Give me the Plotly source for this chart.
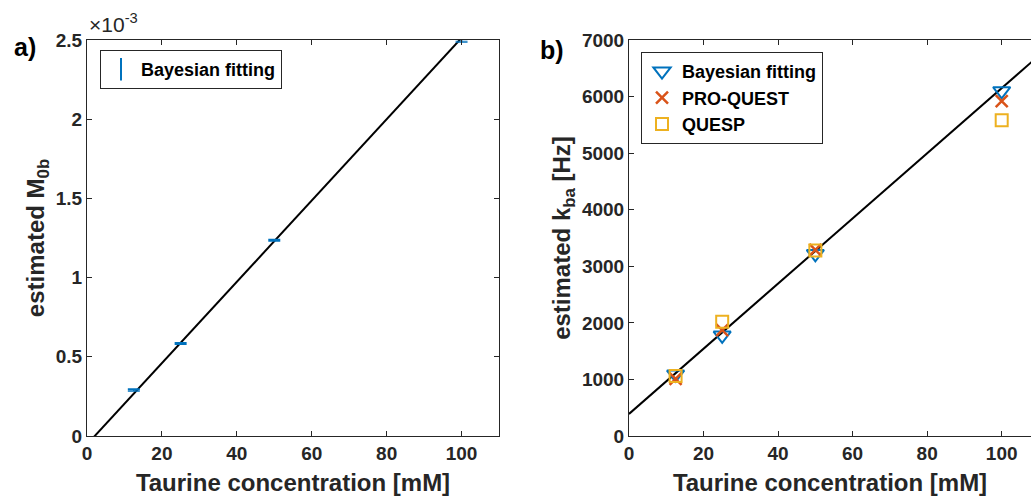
import numpy as np
import plotly.graph_objects as go

# ---- data ----
conc = [12.5, 25, 50, 100]                      # taurine concentration [mM]

# (a) Bayesian estimate of M0b with its standard deviation
m0b_mean = [0.290e-3, 0.584e-3, 1.236e-3, 2.495e-3]
m0b_sd = [0.006e-3, 0.005e-3, 0.005e-3, 0.008e-3]
m0b_fit_slope = 2.566e-5                        # per mM
m0b_fit_intercept = -5.3e-5

# (b) exchange rate k_ba from three methods [Hz]
kba_bayes = [1090, 1780, 3220, 6100]
kba_proquest = [1010, 1870, 3290, 5920]
kba_quesp = [1060, 2020, 3280, 5580]
kba_fit_slope = 57.6                            # Hz per mM
kba_fit_intercept = 390

m0b_ticks = [0, 0.5e-3, 1.0e-3, 1.5e-3, 2.0e-3, 2.5e-3]
m0b_ticktext = ["0", "0.5", "1", "1.5", "2", "2.5"]

BLUE = "#0072BD"
ORANGE = "#D95319"
YELLOW = "#EDB120"
INK = "#262626"
FONT = "Liberation Sans"

W, H = 1031, 503
ML, MR, MT, MB = 0, 0, 40, 67
PW = W - ML - MR

fig = go.Figure()

# fit lines span the full x range and are clipped by the axes
xfit = np.array([0.0, 110.0])
fig.add_trace(go.Scatter(
    x=xfit, y=m0b_fit_slope * xfit + m0b_fit_intercept,
    mode="lines", line=dict(color="black", width=2),
    showlegend=False, hoverinfo="skip", xaxis="x", yaxis="y"))

fig.add_trace(go.Scatter(
    x=conc, y=m0b_mean, mode="markers",
    marker=dict(color="rgba(0,0,0,0)", size=2),
    error_y=dict(type="data", array=m0b_sd, color=BLUE, thickness=1.6, width=6),
    showlegend=False, xaxis="x", yaxis="y"))
# legend entry for the error-bar series
fig.add_trace(go.Scatter(
    x=[None], y=[None], mode="markers", name="Bayesian fitting",
    marker=dict(symbol="line-ns-open", size=16, color=BLUE, line=dict(color=BLUE, width=2)),
    legend="legend", xaxis="x", yaxis="y"))

xfit2 = np.array([0.0, 110.0])
fig.add_trace(go.Scatter(
    x=xfit2, y=kba_fit_slope * xfit2 + kba_fit_intercept,
    mode="lines", line=dict(color="black", width=2),
    showlegend=False, hoverinfo="skip", xaxis="x2", yaxis="y2"))

fig.add_trace(go.Scatter(
    x=conc, y=kba_bayes, mode="markers", name="Bayesian fitting",
    marker=dict(symbol="triangle-down-open", size=15, color=BLUE, line=dict(color=BLUE, width=2)),
    legend="legend2", xaxis="x2", yaxis="y2"))
fig.add_trace(go.Scatter(
    x=conc, y=kba_proquest, mode="markers", name="PRO-QUEST",
    marker=dict(symbol="x-thin-open", size=12, color=ORANGE, line=dict(color=ORANGE, width=2.5)),
    legend="legend2", xaxis="x2", yaxis="y2"))
fig.add_trace(go.Scatter(
    x=conc, y=kba_quesp, mode="markers", name="QUESP",
    marker=dict(symbol="square-open", size=12, color=YELLOW, line=dict(color=YELLOW, width=2)),
    legend="legend2", xaxis="x2", yaxis="y2"))

tick_font = dict(family=FONT, size=19, color=INK, weight="bold")
title_font = dict(family=FONT, size=24, color=INK, weight="bold")

axis_common = dict(
    showline=True, linecolor=INK, linewidth=1,
    ticks="inside", ticklen=5, tickcolor=INK, tickwidth=1,
    showgrid=False, zeroline=False, tickfont=tick_font, automargin=False,
)

ax1_l, ax1_r = 87, 499
ax2_l = 629
x2_max = (W - ax2_l) / ((1001.7 - ax2_l) / 100.0)

fig.update_layout(
    width=W, height=H,
    margin=dict(l=ML, r=MR, t=MT, b=MB),
    paper_bgcolor="white", plot_bgcolor="white",
    xaxis=dict(domain=[ax1_l / PW, ax1_r / PW], range=[0, 110], mirror="allticks",
               tickvals=[0, 20, 40, 60, 80, 100],
               title=dict(text="Taurine concentration [mM]", font=title_font, standoff=11),
               anchor="y", **axis_common),
    yaxis=dict(domain=[0, 1], range=[0, 2.5e-3], mirror="allticks",
               tickvals=m0b_ticks, ticktext=m0b_ticktext,
               title=dict(text="estimated M<sub>0b</sub>", font=title_font, standoff=4),
               anchor="x", **axis_common),
    xaxis2=dict(domain=[ax2_l / PW, 1.0], range=[0, x2_max], mirror="allticks",
                tickvals=[0, 20, 40, 60, 80, 100],
                title=dict(text="Taurine concentration [mM]", font=title_font, standoff=11),
                anchor="y2", **axis_common),
    yaxis2=dict(domain=[0, 1], range=[0, 7000],
                tickvals=[0, 1000, 2000, 3000, 4000, 5000, 6000, 7000],
                title=dict(text="estimated k<sub>ba</sub> [Hz]", font=title_font, standoff=4),
                anchor="x2", **axis_common),
    legend=dict(x=100 / W, y=(436 - 50) / 396, xanchor="left", yanchor="top",
                bgcolor="white", bordercolor=INK, borderwidth=1,
                font=dict(family=FONT, size=18, color="black", weight="bold")),
    legend2=dict(x=641 / W, y=(436 - 52) / 396, xanchor="left", yanchor="top",
                 bgcolor="white", bordercolor=INK, borderwidth=1,
                 font=dict(family=FONT, size=18, color="black", weight="bold")),
    annotations=[
        dict(text="a)", x=12, y=47, xref="paper", yref="paper", showarrow=False,
             font=dict(family=FONT, size=25, color="black", weight="bold")),
        dict(text="b)", x=538, y=50, xref="paper", yref="paper", showarrow=False,
             font=dict(family=FONT, size=25, color="black", weight="bold")),
        dict(text="×10<sup>-3</sup>", x=87, y=23, xref="paper", yref="paper",
             showarrow=False, font=dict(family=FONT, size=21, color=INK)),
    ],
)

# place the panel labels and the exponent in pixel terms
for ann in fig.layout.annotations:
    px, py = ann.x, ann.y
    ann.x = (px - ML) / PW
    ann.y = (H - MB - py) / (H - MT - MB)
    ann.xanchor = "left"
    ann.yanchor = "middle"

fig.write_html("out.html")
